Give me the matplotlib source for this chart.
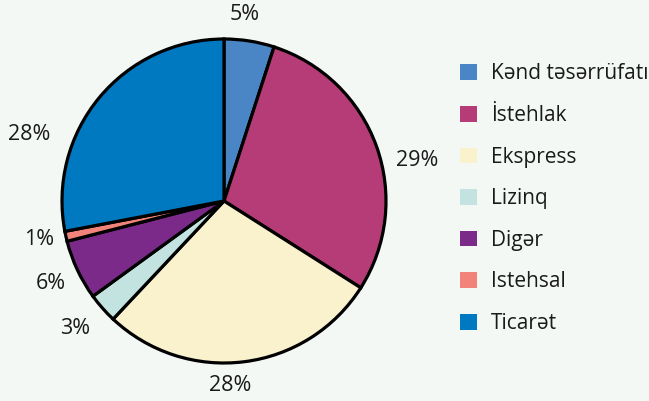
import matplotlib.pyplot as plt
from matplotlib.patches import Patch

labels = ['Kənd təsərrüfatı', 'İstehlak', 'Ekspress', 'Lizinq', 'Digər', 'Istehsal', 'Ticarət']
values = [5, 29, 28, 3, 6, 1, 28]
colors = ['#4a86c5', '#b53c76', '#faf1cd', '#c3e3e1', '#7b2a8a', '#f2837a', '#0079c1']

# where the percent labels sit, in pie-radius units
label_xy = [(0.13, 1.15), (1.19, 0.25), (0.04, -1.14), (-0.92, -0.79),
            (-1.07, -0.51), (-1.14, -0.24), (-1.20, 0.41)]

bg = '#f3f8f5'
plt.rcParams['font.family'] = ['Open Sans', 'DejaVu Sans']

fig = plt.figure(figsize=(6.49, 4.01), dpi=100, facecolor=bg)
ax = fig.add_axes([62 / 649, (401 - 201 - 162) / 401, 324 / 649, 324 / 401])
ax.set_facecolor(bg)

wedges, texts, autotexts = ax.pie(values, colors=colors, startangle=90, counterclock=False,
                                  autopct='%d%%', pctdistance=1.17,
                                  wedgeprops=dict(edgecolor='black', linewidth=2.3),
                                  textprops=dict(fontsize=15.5, color='#1a1a1a'))
for t, xy in zip(autotexts, label_xy):
    t.set_position(xy)
ax.set_xlim(-1, 1)
ax.set_ylim(-1, 1)

handles = [Patch(facecolor=c, edgecolor='none') for c in colors]
fig.legend(handles, labels, loc='upper left', bbox_to_anchor=(452 / 649, 1 - 55 / 401),
           frameon=False, fontsize=15, handlelength=0.78, handleheight=0.78,
           labelspacing=0.99, handletextpad=0.7, labelcolor='#1a1a1a', borderaxespad=0)

fig.savefig('out.png', dpi=100, facecolor=bg)
